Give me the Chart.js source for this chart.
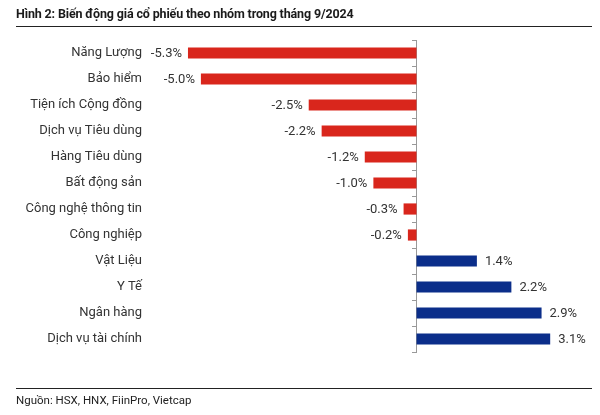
<!DOCTYPE html>
<html>
<head>
<meta charset="utf-8">
<script src="https://cdn.jsdelivr.net/npm/chart.js@4/dist/chart.umd.min.js"></script>
<style>
  body { margin: 0; background: #fff; font-family: Roboto, "Noto Sans", sans-serif; }
  #wrap { position: relative; width: 600px; height: 415px; }
  #title { position: absolute; left: 16px; top: 6px; font-size: 12.5px; font-weight: 700; color: #1a1a1a; letter-spacing: -0.15px; }
  .rule { position: absolute; left: 16px; width: 576px; height: 0; border-top: 1.5px solid #222; }
  #src { position: absolute; left: 16px; top: 393px; font-size: 11.5px; color: #222; }
  canvas { position: absolute; left: 0; top: 0; }
</style>
</head>
<body>
<div id="wrap">
  <canvas id="chart" width="600" height="415"></canvas>
  <div id="title">Hình 2: Biến động giá cổ phiếu theo nhóm trong tháng 9/2024</div>
  <div class="rule" style="top:26px"></div>
  <div class="rule" style="top:388px"></div>
  <div id="src">Nguồn: HSX, HNX, FiinPro, Vietcap</div>
</div>
<script>
// nhóm ngành và biến động giá (%)
const categories = ['Năng Lượng', 'Bảo hiểm', 'Tiện ích Cộng đồng', 'Dịch vụ Tiêu dùng', 'Hàng Tiêu dùng',
  'Bất động sản', 'Công nghệ thông tin', 'Công nghiệp', 'Vật Liệu', 'Y Tế', 'Ngân hàng', 'Dịch vụ tài chính'];
const changes = [-5.3, -5.0, -2.5, -2.2, -1.2, -1.0, -0.3, -0.2, 1.4, 2.2, 2.9, 3.1];

const RED = '#d9261c', BLUE = '#0b2e8a';
const FONT = 'Roboto, "Noto Sans", sans-serif';

// nhãn giá trị ở đầu mỗi thanh
const valueLabels = {
  id: 'valueLabels',
  afterDatasetsDraw(chart) {
    const ctx = chart.ctx;
    const meta = chart.getDatasetMeta(0);
    ctx.save();
    ctx.font = '13px ' + FONT;
    ctx.fillStyle = '#333';
    ctx.textBaseline = 'middle';
    meta.data.forEach((bar, i) => {
      const v = changes[i];
      const txt = v.toFixed(1) + '%';
      if (v < 0) { ctx.textAlign = 'right'; ctx.fillText(txt, bar.x - 6, bar.y + 1); }
      else { ctx.textAlign = 'left'; ctx.fillText(txt, bar.x + 8, bar.y + 1); }
    });
    ctx.restore();
  }
};

new Chart(document.getElementById('chart'), {
  type: 'bar',
  data: {
    labels: categories,
    datasets: [{
      data: changes,
      backgroundColor: ctx => ctx.raw < 0 ? RED : BLUE,
      categoryPercentage: 1,
      barPercentage: 0.43
    }]
  },
  options: {
    indexAxis: 'y',
    responsive: false,
    animation: false,
    layout: { padding: { top: 40, bottom: 63, left: 16, right: 11 } },
    plugins: { legend: { display: false }, tooltip: { enabled: false } },
    scales: {
      x: { display: false, min: -6.25, max: 4.0 },
      y: {
        grid: { display: false, drawTicks: false },
        border: { display: false },
        ticks: { color: '#333', padding: 5, font: { size: 13, family: FONT } },
        afterFit: s => { s.width = 131; }
      },
      y2: {
        type: 'category',
        axis: 'y',
        position: { x: 0 },
        offset: true,
        ticks: { display: false },
        grid: { offset: true, drawOnChartArea: false, tickLength: 4, color: '#999' },
        border: { color: '#999', width: 1 },
        afterFit: s => { s.width = 0; }
      }
    }
  },
  plugins: [valueLabels]
});
</script>
</body>
</html>
